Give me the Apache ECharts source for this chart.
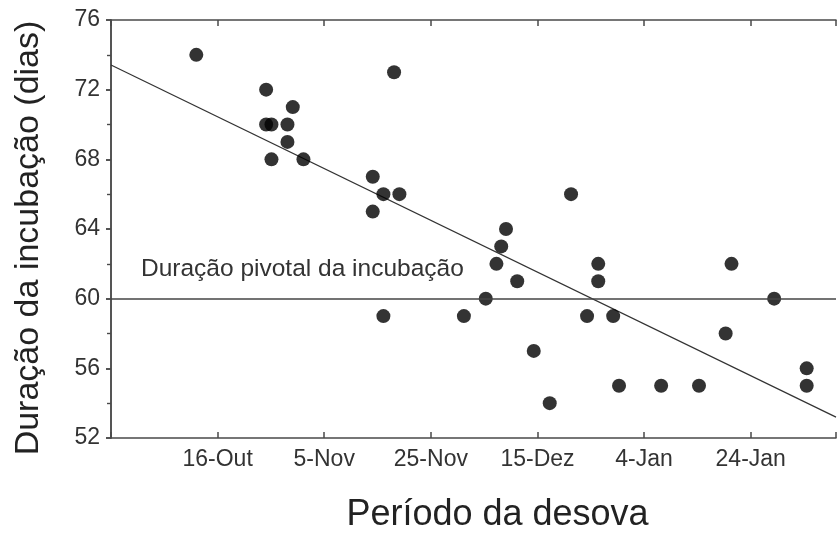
<!DOCTYPE html>
<html>
<head>
<meta charset="utf-8">
<script src="https://cdn.jsdelivr.net/npm/echarts@6/dist/echarts.min.js"></script>
<style>
html,body{margin:0;padding:0;background:#fff;}
#chart{width:839px;height:538px;}
</style>
</head>
<body>
<div id="chart"></div>
<script>
// Day numbers counted from 26-Set (day 0)
const spawnDay = [16, 29.1, 29.1, 30.1, 33.1, 34.1, 33.1, 30.1, 36.1, 53.1, 49.1, 51.1, 54.1, 49.1, 51.1,
  66.2, 70.3, 72.3, 73.2, 74.1, 76.2, 79.3, 82.3, 86.3, 89.3, 91.4, 91.4, 94.2, 95.3, 103.2, 110.3,
  115.3, 116.4, 124.4, 130.5, 130.5];
const incubation = [74, 72, 70, 70, 70, 71, 69, 68, 68, 73, 67, 66, 66, 65, 59,
  59, 60, 62, 63, 64, 61, 57, 54, 66, 59, 62, 61, 59, 55, 55, 55,
  58, 62, 60, 56, 55];
const trendDays = [0, 136];
const trendValues = [73.42, 53.2];
const pivotalValue = 60;
const pivotalLabel = 'Duração pivotal da incubação';
const xTickValues = [20, 40, 60, 80, 100, 120];
const xTickLabels = ['16-Out', '5-Nov', '25-Nov', '15-Dez', '4-Jan', '24-Jan'];
const yTicks = [52, 56, 60, 64, 68, 72, 76];

const points = spawnDay.map((d, i) => [d, incubation[i]]);
const trend = trendDays.map((d, i) => [d, trendValues[i]]);

const FONT = 'Liberation Sans, Arial, sans-serif';
const AXIS_COLOR = '#4a4a4a';

const chart = echarts.init(document.getElementById('chart'), null, {renderer: 'canvas'});
chart.setOption({
  animation: false,
  backgroundColor: '#fff',
  grid: {left: 111, right: 0, top: 20, bottom: 92, containLabel: false},
  xAxis: [{
    type: 'value', min: 0, max: 136, interval: 20, position: 'bottom',
    axisLine: {show: true, lineStyle: {color: AXIS_COLOR, width: 1.5}},
    axisTick: {show: true, inside: true, length: 6, lineStyle: {color: AXIS_COLOR, width: 1.5}},
    axisLabel: {
      margin: 10, color: '#333', fontFamily: FONT, fontSize: 23,
      formatter: v => { const k = xTickValues.indexOf(v); return k >= 0 ? xTickLabels[k] : ''; }
    },
    splitLine: {show: false},
    name: 'Período da desova', nameLocation: 'middle', nameGap: 59,
    nameTextStyle: {color: '#222', fontFamily: FONT, fontSize: 36, padding: [0, 0, 0, 48]}
  }, {
    type: 'value', min: 0, max: 136, interval: 20, position: 'top',
    axisLine: {show: true, lineStyle: {color: AXIS_COLOR, width: 1.5}},
    axisTick: {show: true, inside: true, length: 6, lineStyle: {color: AXIS_COLOR, width: 1.5}},
    axisLabel: {show: false}, splitLine: {show: false}
  }],
  yAxis: [{
    type: 'value', min: 52, max: 76, interval: 4, position: 'left',
    axisLine: {show: true, lineStyle: {color: AXIS_COLOR, width: 1.5}},
    axisTick: {show: true, inside: false, length: 5, lineStyle: {color: AXIS_COLOR, width: 1.5}},
    minorTick: {show: true, splitNumber: 2, length: 4, lineStyle: {color: AXIS_COLOR, width: 1.2}},
    axisLabel: {margin: 11, color: '#333', fontFamily: FONT, fontSize: 23,
      formatter: v => (yTicks.indexOf(v) >= 0 ? String(v) : '')},
    splitLine: {show: false},
    name: 'Duração da incubação (dias)', nameLocation: 'middle', nameGap: 65,
    nameTextStyle: {color: '#222', fontFamily: FONT, fontSize: 34, padding: [0, 18, 0, 0]}
  }, {
    type: 'value', min: 52, max: 76, interval: 4, position: 'right',
    axisLine: {show: true, lineStyle: {color: AXIS_COLOR, width: 1.5}},
    axisTick: {show: true, inside: true, length: 5, lineStyle: {color: AXIS_COLOR, width: 1.5}},
    minorTick: {show: true, splitNumber: 2, length: 4, lineStyle: {color: AXIS_COLOR, width: 1.2}},
    axisLabel: {show: false}, splitLine: {show: false}
  }],
  series: [{
    type: 'line', data: trend, xAxisIndex: 0, yAxisIndex: 0,
    showSymbol: false, symbol: 'none', silent: true,
    lineStyle: {color: '#333', width: 1.2}, z: 2
  }, {
    type: 'scatter', data: points, xAxisIndex: 0, yAxisIndex: 0,
    symbol: 'circle', symbolSize: 14,
    itemStyle: {color: '#000'}, z: 3,
    markLine: {
      silent: true, symbol: ['none', 'none'],
      lineStyle: {color: '#444', width: 1.5, type: 'solid'},
      label: {
        show: true, position: 'insideStartTop', distance: [30, 17],
        formatter: pivotalLabel, color: '#333', fontFamily: FONT, fontSize: 24.5
      },
      data: [{yAxis: pivotalValue}]
    }
  }]
});
</script>
</body>
</html>
